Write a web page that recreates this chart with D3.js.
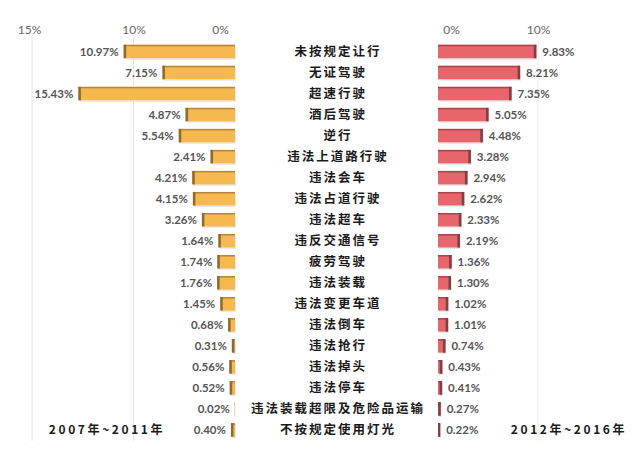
<!DOCTYPE html>
<html>
<head>
<meta charset="utf-8">
<script src="https://cdn.jsdelivr.net/npm/d3@7"></script>
<style>
  body { margin: 0; background: #fff; }
  svg { display: block; }
</style>
</head>
<body>
<script>
// 违法行为类别
var categories = ['未按规定让行','无证驾驶','超速行驶','酒后驾驶','逆行','违法上道路行驶',
  '违法会车','违法占道行驶','违法超车','违反交通信号','疲劳驾驶','违法装载','违法变更车道',
  '违法倒车','违法抢行','违法掉头','违法停车','违法装载超限及危险品运输','不按规定使用灯光']

var left2007 = [10.97,7.15,15.43,4.87,5.54,2.41,4.21,4.15,3.26,1.64,1.74,1.76,1.45,0.68,0.31,0.56,0.52,0.02,0.40]
var right2012 = [9.83,8.21,7.35,5.05,4.48,3.28,2.94,2.62,2.33,2.19,1.36,1.30,1.02,1.01,0.74,0.43,0.41,0.27,0.22]

var leftTicks = [0,10,20]
var leftTickLabels = ['0%','10%','15%']
var rightTicks = [0,10]
var rightTickLabels = ['0%','10%']

var periods = ['2007年~2011年','2012年~2016年']

var width = 640, height = 470

var svg = d3.select('body').append('svg')
  .attr('width', width)
  .attr('height', height)

var y = d3.scaleBand()
  .domain(categories)
  .range([41, 440.5])
  .paddingInner(0.36)
  .paddingOuter(0.18)

var xL = d3.scaleLinear().domain([0,20]).range([235,32])
var xR = d3.scaleLinear().domain([0,10]).range([438,538])

// gridlines
svg.append('g')
  .selectAll('line')
  .data(leftTicks.filter(d=>d>0))
  .enter().append('line')
  .attr('x1',d=>xL(d)).attr('x2',d=>xL(d))
  .attr('y1',38).attr('y2',441)
  .attr('stroke','#e4e4e4')

svg.append('g')
  .selectAll('line')
  .data(rightTicks.filter(d=>d>0))
  .enter().append('line')
  .attr('x1',d=>xR(d)).attr('x2',d=>xR(d))
  .attr('y1',38).attr('y2',441)
  .attr('stroke','#ececec')

// axes on top
var axL = svg.append('g')
  .attr('transform','translate(0,37)')
  .call(d3.axisTop(xL).tickValues(leftTicks).tickSize(0).tickFormat((d,i)=>leftTickLabels[i]))
var axR = svg.append('g')
  .attr('transform','translate(0,37)')
  .call(d3.axisTop(xR).tickValues(rightTicks).tickSize(0).tickFormat((d,i)=>rightTickLabels[i]))

;[axL, axR].forEach(function(ax){
  ax.select('.domain').remove()
  ax.selectAll('text')
    .attr('fill','#666')
    .style('font-family','Lato, "Open Sans", sans-serif')
    .style('font-size','12px')
})
axL.selectAll('.tick').filter(d=>d==0).select('text').attr('dx',-15)
axL.selectAll('.tick').filter(d=>d==20).select('text').attr('dx',-3)
axR.selectAll('.tick').filter(d=>d==0).select('text').attr('dx',13)

// left bars
var gL = svg.append('g')
var rowsL = gL.selectAll('g').data(left2007).enter().append('g')

rowsL.append('rect')
  .attr('x',d=>xL(d)+1).attr('y',(d,i)=>y(categories[i])+1.5)
  .attr('width',d=>xL(0)-xL(d)).attr('height',y.bandwidth())
  .attr('fill','#d8d8d8').attr('opacity',0.6)
rowsL.append('rect')
  .attr('x',d=>xL(d)).attr('y',(d,i)=>y(categories[i]))
  .attr('width',d=>xL(0)-xL(d)).attr('height',y.bandwidth())
  .attr('fill','#f6b94f')
rowsL.append('rect')
  .attr('x',d=>xL(d)).attr('y',(d,i)=>y(categories[i]))
  .attr('width',d=>xL(0)-xL(d)).attr('height',1.5)
  .attr('fill','#b58638')
rowsL.append('rect')
  .attr('x',d=>xL(d)).attr('y',(d,i)=>y(categories[i]))
  .attr('width',d=>Math.min(2.5,xL(0)-xL(d))).attr('height',y.bandwidth())
  .attr('fill','#8c6a33')

rowsL.append('text')
  .attr('x',d=>xL(d)-5)
  .attr('y',(d,i)=>y(categories[i])+y.bandwidth()/2)
  .attr('dy','0.35em')
  .attr('text-anchor','end')
  .attr('fill','#555')
  .style('font-family','Lato, "Open Sans", sans-serif')
  .style('font-size','11.5px')
  .style('font-weight','bold')
  .text(d=>d.toFixed(2)+'%')

// right bars
var gR = svg.append('g')
var rowsR = gR.selectAll('g').data(right2012).enter().append('g')

rowsR.append('rect')
  .attr('x',xR(0)+1).attr('y',(d,i)=>y(categories[i])+1.5)
  .attr('width',d=>xR(d)-xR(0)).attr('height',y.bandwidth())
  .attr('fill','#d8d8d8').attr('opacity',0.6)
rowsR.append('rect')
  .attr('x',xR(0)).attr('y',(d,i)=>y(categories[i]))
  .attr('width',d=>xR(d)-xR(0)).attr('height',y.bandwidth())
  .attr('fill','#e8656c')
rowsR.append('rect')
  .attr('x',xR(0)).attr('y',(d,i)=>y(categories[i]))
  .attr('width',d=>xR(d)-xR(0)).attr('height',1.5)
  .attr('fill','#a9434a')
rowsR.append('rect')
  .attr('x',d=>xR(d)-Math.min(2.5,xR(d)-xR(0))).attr('y',(d,i)=>y(categories[i]))
  .attr('width',d=>Math.min(2.5,xR(d)-xR(0))).attr('height',y.bandwidth())
  .attr('fill','#7e3f45')

rowsR.append('text')
  .attr('x',d=>xR(d)+6)
  .attr('y',(d,i)=>y(categories[i])+y.bandwidth()/2)
  .attr('dy','0.35em')
  .attr('fill','#555')
  .style('font-family','Lato, "Open Sans", sans-serif')
  .style('font-size','11.5px')
  .style('font-weight','bold')
  .text(d=>d.toFixed(2)+'%')

// category labels
svg.append('g')
  .selectAll('text')
  .data(categories).enter()
  .append('text')
  .attr('x',338)
  .attr('y',d=>y(d)+y.bandwidth()/2)
  .attr('dy','0.36em')
  .attr('text-anchor','middle')
  .attr('fill','#1a1a1a')
  .style('font-family','"Noto Sans CJK SC", sans-serif')
  .style('font-size','12.5px')
  .style('font-weight','bold')
  .style('letter-spacing','2px')
  .text(d=>d)

// period labels
svg.append('g')
  .selectAll('text')
  .data(periods).enter()
  .append('text')
  .attr('x',(d,i)=>i==0?107:569)
  .attr('y',y(categories[18])+y.bandwidth()/2)
  .attr('dy','0.36em')
  .attr('text-anchor','middle')
  .attr('fill','#1a1a1a')
  .style('font-family','"Noto Sans CJK SC", sans-serif')
  .style('font-size','12px')
  .style('font-weight','bold')
  .style('letter-spacing','2.6px')
  .text(d=>d)
</script>
</body>
</html>
